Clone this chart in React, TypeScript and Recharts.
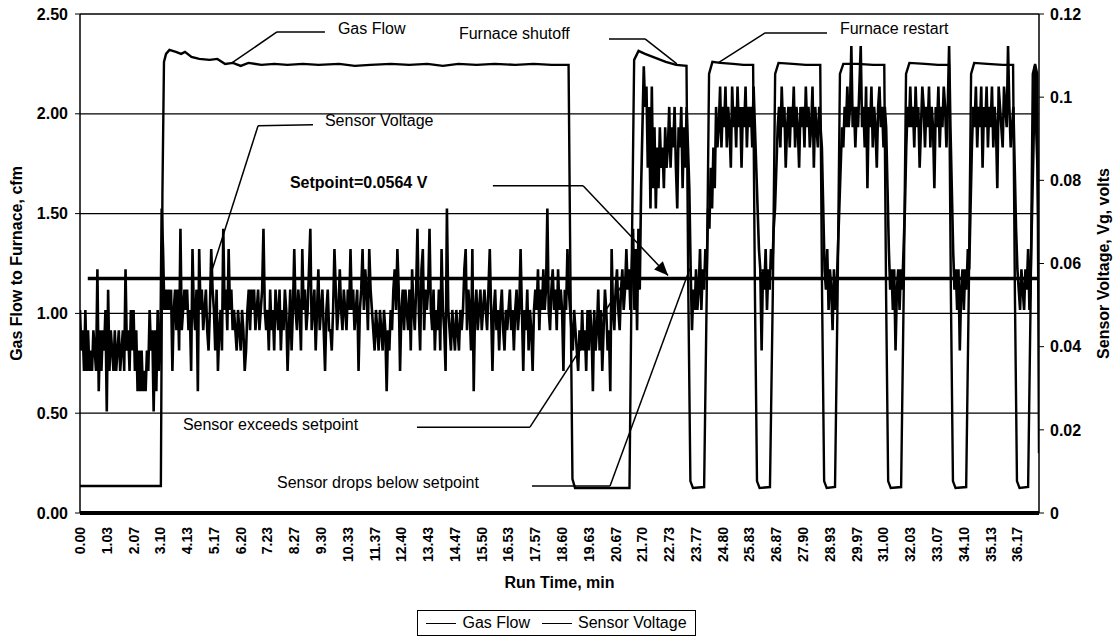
import React from 'react';
import {
  LineChart,
  Line,
  XAxis,
  YAxis,
  CartesianGrid,
  Legend,
  ReferenceLine,
  ReferenceDot,
} from 'recharts';

const FONT = '"Liberation Sans", Arial, Helvetica, sans-serif';

// run time labels printed under the x axis (min)
const tickLabels = [
  '0.00', '1.03', '2.07', '3.10', '4.13', '5.17', '6.20', '7.23', '8.27', '9.30',
  '10.33', '11.37', '12.40', '13.43', '14.47', '15.50', '16.53', '17.57', '18.60', '19.63',
  '20.67', '21.70', '22.73', '23.77', '24.80', '25.83', '26.87', '27.90', '28.93', '29.97',
  '31.00', '32.03', '33.07', '34.10', '35.13', '36.17',
];
const leftTicks = [0, 0.5, 1, 1.5, 2, 2.5];
const rightTicks = [0, 0.02, 0.04, 0.06, 0.08, 0.1, 0.12];

// gas flow to furnace (cfm) read at the turning points of the trace
const gasFlowTime = [
  0, 3.12, 3.18, 3.24, 3.32, 3.45, 3.7, 3.9, 4.05, 4.3,
  4.6, 5.0, 5.3, 5.6, 5.9, 6.2, 6.5, 7.0, 7.5, 8.0,
  8.6, 9.2, 10.0, 10.6, 11.2, 12.0, 12.7, 13.4, 14.0, 14.6,
  15.3, 16.0, 16.8, 17.5, 18.2, 18.85, 18.92, 19.0, 19.1, 21.2,
  21.3, 21.38, 21.55, 21.8, 22.2, 22.6, 23.0, 23.4, 23.47, 23.55,
  23.65, 24.08, 24.18, 24.27, 24.4, 24.7, 25.2, 25.6, 25.97, 26.04,
  26.12, 26.22, 26.62, 26.73, 26.82, 26.95, 27.5, 28.0, 28.56, 28.63,
  28.71, 28.81, 29.13, 29.23, 29.32, 29.45, 30.0, 30.6, 31.03, 31.1,
  31.18, 31.28, 31.68, 31.78, 31.87, 32.0, 32.6, 33.1, 33.53, 33.6,
  33.68, 33.78, 34.19, 34.29, 34.38, 34.5, 35.0, 35.6, 36.0, 36.07,
  36.15, 36.25, 36.58, 36.68, 36.76, 36.85, 36.93, 37.0,
];
const gasFlowCfm = [
  0.135, 0.135, 1.6, 2.26, 2.3, 2.32, 2.31, 2.3, 2.31, 2.285,
  2.275, 2.27, 2.275, 2.25, 2.255, 2.24, 2.255, 2.245, 2.25, 2.245,
  2.25, 2.245, 2.25, 2.24, 2.245, 2.25, 2.245, 2.25, 2.24, 2.25,
  2.245, 2.25, 2.245, 2.25, 2.245, 2.245, 1.2, 0.17, 0.125, 0.125,
  1.4, 2.27, 2.315, 2.3, 2.28, 2.26, 2.245, 2.24, 1.1, 0.16,
  0.125, 0.13, 1.1, 2.2, 2.26, 2.255, 2.25, 2.245, 2.245, 1.1,
  0.16, 0.125, 0.13, 1.1, 2.2, 2.255, 2.25, 2.245, 2.245, 1.1,
  0.16, 0.125, 0.13, 1.1, 2.2, 2.25, 2.25, 2.245, 2.245, 1.1,
  0.16, 0.125, 0.13, 1.1, 2.2, 2.255, 2.25, 2.245, 2.245, 1.1,
  0.16, 0.125, 0.13, 1.1, 2.2, 2.255, 2.25, 2.245, 2.245, 1.1,
  0.16, 0.125, 0.13, 1.1, 2.2, 2.25, 2.2, 0.3,
];

// sensor voltage as raw 10-bit counts (5 V full scale), one reading every 3.1 s
const SAMPLE_MIN = 3.1 / 60;
const VOLTS_PER_COUNT = 5 / 1024;
const sensorCounts = [
  10, 8, 9, 7, 10, 7, 9, 7, 8, 7, 9, 8, 7, 12, 6, 9, 7, 9, 8, 10,
  5, 11, 7, 9, 8, 7, 9, 7, 8, 9, 7, 8, 9, 7, 12, 8, 9, 7, 10, 8,
  10, 7, 9, 6, 8, 6, 8, 6, 7, 6, 8, 7, 10, 8, 9, 5, 9, 6, 10, 7,
  8, 15, 13, 10, 11, 10, 11, 10, 11, 7, 10, 11, 9, 11, 8, 14, 9, 10, 11, 10,
  11, 9, 10, 7, 13, 10, 9, 11, 6, 13, 10, 11, 9, 10, 11, 9, 8, 10, 13, 11,
  10, 8, 11, 7, 9, 10, 8, 14, 10, 11, 9, 13, 10, 11, 9, 10, 9, 8, 10, 9,
  8, 10, 9, 7, 8, 10, 11, 9, 11, 10, 11, 9, 10, 11, 9, 10, 11, 14, 10, 9,
  10, 8, 11, 9, 10, 8, 11, 10, 9, 11, 8, 10, 9, 11, 10, 7, 9, 11, 8, 10,
  13, 10, 9, 11, 10, 8, 13, 10, 11, 9, 10, 12, 14, 9, 10, 11, 8, 10, 12, 9,
  10, 11, 9, 7, 10, 11, 9, 9, 8, 10, 13, 11, 9, 10, 12, 10, 9, 11, 10, 9,
  11, 10, 13, 10, 11, 9, 10, 11, 7, 10, 11, 13, 10, 12, 11, 9, 13, 11, 10, 9,
  8, 10, 9, 8, 10, 9, 8, 10, 9, 6, 9, 8, 10, 9, 11, 12, 10, 13, 11, 7,
  10, 11, 9, 11, 10, 9, 11, 8, 12, 10, 9, 11, 14, 10, 8, 12, 13, 9, 11, 10,
  11, 14, 10, 9, 11, 8, 10, 9, 11, 8, 13, 10, 9, 7, 15, 10, 9, 8, 10, 9,
  8, 10, 9, 8, 10, 9, 10, 12, 13, 9, 11, 10, 8, 13, 6, 10, 11, 9, 10, 11,
  9, 10, 11, 10, 9, 11, 13, 10, 7, 10, 11, 9, 10, 8, 10, 11, 9, 8, 10, 9,
  10, 11, 9, 10, 8, 10, 11, 9, 10, 13, 10, 7, 10, 9, 11, 8, 10, 9, 7, 10,
  11, 10, 12, 9, 11, 10, 12, 10, 11, 15, 10, 9, 11, 12, 10, 11, 9, 12, 10, 11,
  10, 7, 11, 10, 13, 11, 10, 9, 8, 10, 9, 8, 7, 9, 8, 10, 8, 9, 7, 10,
  8, 10, 9, 6, 10, 8, 9, 11, 8, 10, 7, 9, 11, 10, 8, 9, 6, 13, 10, 9,
  11, 12, 10, 9, 11, 12, 10, 11, 13, 11, 12, 10, 12, 14, 10, 13, 9, 14, 11, 16,
  19, 22, 20, 21, 17, 20, 15, 21, 16, 19, 15, 18, 16, 19, 17, 18, 16, 19, 17, 18,
  20, 17, 19, 18, 20, 17, 15, 19, 18, 20, 16, 19, 17, 20, 18, 16, 12, 9, 11, 10,
  12, 10, 11, 13, 10, 12, 11, 13, 12, 15, 14, 17, 15, 18, 16, 20, 18, 19, 21, 18,
  20, 19, 21, 18, 20, 19, 17, 21, 19, 20, 18, 21, 19, 20, 17, 20, 19, 21, 18, 20,
  19, 20, 18, 21, 19, 17, 15, 13, 12, 8, 12, 11, 13, 10, 12, 11, 13, 12, 14, 15,
  17, 19, 20, 18, 21, 19, 20, 17, 19, 20, 18, 20, 19, 21, 18, 20, 19, 17, 20, 19,
  20, 18, 21, 19, 20, 18, 19, 21, 17, 20, 19, 18, 20, 19, 18, 15, 12, 11, 13, 10,
  12, 11, 9, 12, 10, 11, 13, 15, 17, 19, 18, 20, 19, 21, 19, 20, 23, 19, 20, 18,
  20, 19, 21, 23, 19, 20, 18, 21, 16, 20, 19, 21, 18, 20, 19, 17, 20, 21, 19, 20,
  18, 20, 19, 16, 13, 11, 12, 10, 12, 8, 11, 12, 10, 12, 11, 13, 15, 18, 20, 19,
  21, 19, 20, 18, 21, 19, 20, 17, 19, 21, 20, 18, 20, 19, 21, 18, 20, 19, 16, 20,
  19, 21, 18, 20, 19, 21, 20, 18, 20, 23, 19, 16, 13, 11, 12, 10, 12, 8, 11, 12,
  10, 12, 11, 13, 12, 15, 18, 20, 19, 21, 18, 20, 19, 21, 17, 20, 19, 21, 18, 20,
  19, 21, 18, 20, 19, 16, 21, 20, 19, 18, 21, 20, 19, 23, 20, 18, 19, 20, 17, 14,
  12, 11, 10, 12, 11, 10, 12, 11, 13, 10, 12, 15, 18, 22, 19, 17, 13,
];

const SETPOINT_V = 0.0564;

// callout text and leader lines, placed in data units of the left axis
const notes = [
  { text: 'Gas Flow', t: 9.95, v: 2.425 },
  { text: 'Sensor Voltage', t: 9.45, v: 1.965 },
  { text: 'Setpoint=0.0564 V', t: 8.1, v: 1.655, bold: true },
  { text: 'Furnace shutoff', t: 14.62, v: 2.4 },
  { text: 'Furnace restart', t: 29.32, v: 2.425 },
  { text: 'Sensor exceeds setpoint', t: 3.97, v: 0.445 },
  { text: 'Sensor drops below setpoint', t: 7.6, v: 0.155 },
];
const leaders: number[][][] = [
  [[5.86, 2.255], [7.6, 2.41], [9.45, 2.41]],
  [[5.09, 1.215], [6.87, 1.94], [8.99, 1.945]],
  [[15.93, 1.64], [19.41, 1.64], [22.69, 1.19]],
  [[20.41, 2.375], [21.8, 2.375], [23.03, 2.25]],
  [[24.62, 2.255], [26.43, 2.405], [28.82, 2.405]],
  [[13.0, 0.43], [17.36, 0.43], [21.33, 1.225]],
  [[17.44, 0.135], [20.45, 0.135], [23.53, 1.225]],
];
const arrowTip = { t: 22.69, v: 1.19 };

const gasData = gasFlowTime.map((t, i) => ({ t, gas: gasFlowCfm[i] }));
const sensorData = sensorCounts.map((c, i) => ({ t: i * SAMPLE_MIN, sensor: c * VOLTS_PER_COUNT }));
const tickValues = tickLabels.map(Number);

const segments = leaders.flatMap((pts) =>
  pts.slice(1).map((p, k) => [
    { x: pts[k][0], y: pts[k][1] },
    { x: p[0], y: p[1] },
  ])
);

const RunTimeTick = (props: any) => {
  const { x, y, payload } = props;
  return (
    <text
      x={x}
      y={y}
      transform={`rotate(-90, ${x}, ${y})`}
      textAnchor="end"
      dominantBaseline="central"
      fontSize={14}
      fontWeight={700}
      fill="#000"
      fontFamily={FONT}
    >
      {Number(payload.value).toFixed(2)}
    </text>
  );
};

const verticalTitle = (text: string, dx: number) => (props: any) => {
  const vb = props.viewBox || { x: 0, y: 14, width: 80, height: 499 };
  const cx = vb.x + dx;
  const cy = vb.y + vb.height / 2;
  return (
    <text
      x={cx}
      y={cy}
      transform={`rotate(-90, ${cx}, ${cy})`}
      textAnchor="middle"
      dominantBaseline="central"
      fontSize={16}
      fontWeight={700}
      fill="#000"
      fontFamily={FONT}
    >
      {text}
    </text>
  );
};

const runTimeTitle = (props: any) => {
  const vb = props.viewBox || { x: 80, y: 513, width: 959, height: 97 };
  return (
    <text
      x={vb.x + vb.width / 2}
      y={vb.y + 69}
      textAnchor="middle"
      dominantBaseline="central"
      fontSize={16}
      fontWeight={700}
      fill="#000"
      fontFamily={FONT}
    >
      Run Time, min
    </text>
  );
};

const LegendBox = () => (
  <div style={{ display: 'flex', justifyContent: 'center', height: 26 }}>
    <div
      style={{
        display: 'flex',
        alignItems: 'center',
        height: 26,
        boxSizing: 'border-box',
        border: '1px solid #000',
        padding: '0 8px',
        fontSize: 16,
        fontFamily: FONT,
        color: '#000',
        whiteSpace: 'nowrap',
      }}
    >
      <span style={{ width: 30, borderTop: '1.5px solid #000', marginRight: 6 }} />
      <span>Gas Flow</span>
      <span style={{ width: 30, borderTop: '1.5px solid #000', margin: '0 6px 0 12px' }} />
      <span>Sensor Voltage</span>
    </div>
  </div>
);

const axisTick = { fill: '#000', fontSize: 16, fontWeight: 700, fontFamily: FONT };

export default function App() {
  return (
    <div style={{ position: 'absolute', left: 0, top: 0, background: '#fff', fontFamily: FONT }}>
      <LineChart width={1113} height={639} margin={{ top: 14, right: 0, bottom: 3, left: 0 }}>
        <CartesianGrid yAxisId="left" vertical={false} stroke="#000" strokeWidth={1.3} />
        <XAxis
          dataKey="t"
          type="number"
          domain={[0, 37]}
          allowDataOverflow
          ticks={tickValues}
          interval={0}
          height={97}
          tickLine={false}
          tickSize={0}
          tickMargin={14}
          axisLine={{ stroke: '#000', strokeWidth: 4 }}
          tick={<RunTimeTick />}
          label={runTimeTitle}
        />
        <YAxis
          yAxisId="left"
          domain={[0, 2.5]}
          ticks={leftTicks}
          width={80}
          tickSize={5}
          tickMargin={7}
          axisLine={{ stroke: '#000', strokeWidth: 1.5 }}
          tickLine={{ stroke: '#000' }}
          tick={axisTick}
          tickFormatter={(v: number) => v.toFixed(2)}
          label={verticalTitle('Gas Flow to Furnace, cfm', 16)}
        />
        <YAxis
          yAxisId="right"
          orientation="right"
          domain={[0, 0.12]}
          ticks={rightTicks}
          width={74}
          tickSize={5}
          tickMargin={6}
          axisLine={{ stroke: '#000', strokeWidth: 1.5 }}
          tickLine={{ stroke: '#000' }}
          tick={axisTick}
          tickFormatter={(v: number) => String(v)}
          label={verticalTitle('Sensor Voltage, Vg, volts', 64)}
        />
        <Legend verticalAlign="bottom" content={<LegendBox />} />

        <Line
          data={gasData}
          dataKey="gas"
          name="Gas Flow"
          yAxisId="left"
          type="linear"
          stroke="#000"
          strokeWidth={2.4}
          dot={false}
          isAnimationActive={false}
        />
        <Line
          data={sensorData}
          dataKey="sensor"
          name="Sensor Voltage"
          yAxisId="right"
          type="linear"
          stroke="#000"
          strokeWidth={2.6}
          strokeLinejoin="miter"
          strokeMiterlimit={2}
          dot={false}
          isAnimationActive={false}
        />

        <ReferenceLine
          yAxisId="right"
          segment={[
            { x: 0.3, y: SETPOINT_V },
            { x: 37, y: SETPOINT_V },
          ]}
          stroke="#000"
          strokeWidth={3.5}
        />
        {segments.map((seg, i) => (
          <ReferenceLine key={`lead-${i}`} yAxisId="left" segment={seg} stroke="#000" strokeWidth={1.5} ifOverflow="visible" />
        ))}
        <ReferenceDot
          yAxisId="left"
          x={arrowTip.t}
          y={arrowTip.v}
          r={0}
          ifOverflow="visible"
          shape={(p: any) => (
            <polygon points="0,0 -14,-6 -14,6" fill="#000" transform={`translate(${p.cx},${p.cy}) rotate(46.6)`} />
          )}
        />
        {notes.map((n) => (
          <ReferenceDot
            key={n.text}
            yAxisId="left"
            x={n.t}
            y={n.v}
            r={0}
            ifOverflow="visible"
            shape={(p: any) => (
              <text
                x={p.cx}
                y={p.cy}
                dominantBaseline="central"
                fontSize={16}
                fontWeight={n.bold ? 700 : 400}
                fill="#000"
                fontFamily={FONT}
              >
                {n.text}
              </text>
            )}
          />
        ))}
      </LineChart>
    </div>
  );
}
